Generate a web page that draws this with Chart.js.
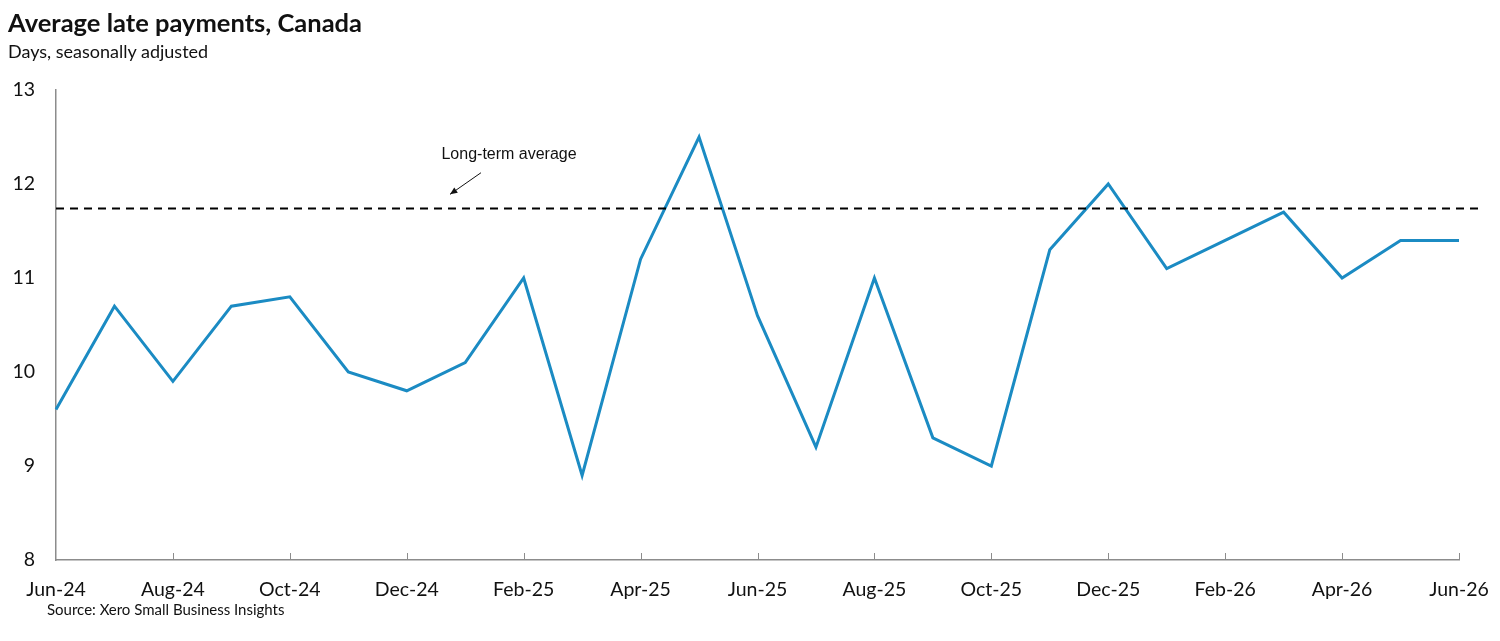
<!DOCTYPE html>
<html>
<head>
<meta charset="utf-8">
<script src="https://cdn.jsdelivr.net/npm/chart.js@4"></script>
<style>
  html, body { margin: 0; padding: 0; background: #fff; }
  #wrap { position: relative; width: 1500px; height: 641px; }
  #title { position: absolute; left: 8px; top: 7px; font: bold 25.5px Lato, sans-serif; color: #111; }
  #subtitle { position: absolute; left: 8px; top: 40px; font: 18px Lato, sans-serif; color: #111; }
  #source { position: absolute; left: 47px; top: 600px; font: 15px Lato, sans-serif; color: #111; }
  canvas { position: absolute; left: 0; top: 0; }
</style>
</head>
<body>
<div id="wrap">
  <canvas id="chart" width="1500" height="641"></canvas>
  <div id="title">Average late payments, Canada</div>
  <div id="subtitle">Days, seasonally adjusted</div>
  <div id="source">Source: Xero Small Business Insights</div>
</div>
<script>
// Data
const months = ['Jun-24', 'Jul-24', 'Aug-24', 'Sep-24', 'Oct-24', 'Nov-24', 'Dec-24', 'Jan-25', 'Feb-25',
  'Mar-25', 'Apr-25', 'May-25', 'Jun-25', 'Jul-25', 'Aug-25', 'Sep-25', 'Oct-25', 'Nov-25', 'Dec-25',
  'Jan-26', 'Feb-26', 'Mar-26', 'Apr-26', 'May-26', 'Jun-26'];
const latePayments = [9.6, 10.7, 9.9, 10.7, 10.8, 10.0, 9.8, 10.1, 11.0,
  8.9, 11.2, 12.5, 10.6, 9.2, 11.0, 9.3, 9.0, 11.3, 12.0,
  11.1, 11.4, 11.7, 11.0, 11.4, 11.4];
const longTermAverage = 11.74;
const annotationText = 'Long-term average';

const axisColor = '#8c8c8c';

// Dashed average line, arrow label and inward tick marks
const extras = {
  id: 'extras',
  afterDatasetsDraw(chart) {
    const c = chart.ctx;
    const x = chart.scales.x;
    const y = chart.scales.y;
    const area = chart.chartArea;

    // tick marks on x axis
    c.save();
    c.strokeStyle = axisColor;
    c.lineWidth = 1;
    months.forEach((m, i) => {
      if (i % 2 === 0 && i > 0) {
        const px = Math.round(x.getPixelForValue(i)) + 0.5;
        c.beginPath();
        c.moveTo(px, area.bottom);
        c.lineTo(px, area.bottom - 7);
        c.stroke();
      }
    });

    // long-term average
    const ay = y.getPixelForValue(longTermAverage);
    c.strokeStyle = '#000';
    c.lineWidth = 2;
    c.setLineDash([8, 6]);
    c.beginPath();
    c.moveTo(area.left, ay);
    c.lineTo(area.right + 21, ay);
    c.stroke();
    c.setLineDash([]);

    // label + arrow
    c.fillStyle = '#111';
    c.font = '16px "Liberation Sans", Arial, sans-serif';
    c.textAlign = 'center';
    c.textBaseline = 'middle';
    c.fillText(annotationText, x.getPixelForValue(7.75), y.getPixelForValue(12.31));

    const tx = x.getPixelForValue(7.27), ty = y.getPixelForValue(12.12);
    const hx = x.getPixelForValue(6.74), hy = y.getPixelForValue(11.89);
    c.strokeStyle = '#111';
    c.lineWidth = 1;
    c.beginPath();
    c.moveTo(tx, ty);
    c.lineTo(hx, hy);
    c.stroke();
    const ang = Math.atan2(hy - ty, hx - tx);
    c.beginPath();
    c.moveTo(hx, hy);
    c.lineTo(hx - 8 * Math.cos(ang - 0.4), hy - 8 * Math.sin(ang - 0.4));
    c.lineTo(hx - 8 * Math.cos(ang + 0.4), hy - 8 * Math.sin(ang + 0.4));
    c.closePath();
    c.fill();
    c.restore();
  }
};

const ctx = document.getElementById('chart').getContext('2d');
const chart = new Chart(ctx, {
  type: 'line',
  data: {
    labels: months,
    datasets: [{
      label: 'Average late payments',
      data: latePayments,
      borderColor: '#1b8bc3',
      borderWidth: 3,
      pointRadius: 0,
      tension: 0,
      fill: false,
    }],
  },
  options: {
    responsive: false,
    animation: false,
    events: [],
    layout: { padding: { top: 90, right: 41, bottom: 0, left: 0 } },
    plugins: {
      legend: { display: false },
      tooltip: { enabled: false },
    },
    scales: {
      x: {
        type: 'category',
        offset: false,
        grid: { display: false, drawTicks: false },
        border: { display: true, color: axisColor, width: 1.5 },
        ticks: {
          autoSkip: false,
          maxRotation: 0,
          padding: 18,
          color: '#111',
          font: { family: 'Lato', size: 19.5 },
          callback: function (v, i) { return i % 2 === 0 ? this.getLabelForValue(v) : ''; },
        },
        afterFit: (s) => {
          s.height = 641 - 560;
          s.paddingLeft = 0;
          s.paddingRight = 0;
        },
      },
      y: {
        min: 8,
        max: 13,
        grid: { display: false, drawTicks: false },
        border: { display: true, color: axisColor, width: 1.5 },
        ticks: {
          stepSize: 1,
          padding: 21,
          color: '#111',
          font: { family: 'Lato', size: 19.5 },
        },
        afterFit: (s) => { s.width = 56; },
      },
    },
  },
  plugins: [extras],
});
</script>
</body>
</html>
